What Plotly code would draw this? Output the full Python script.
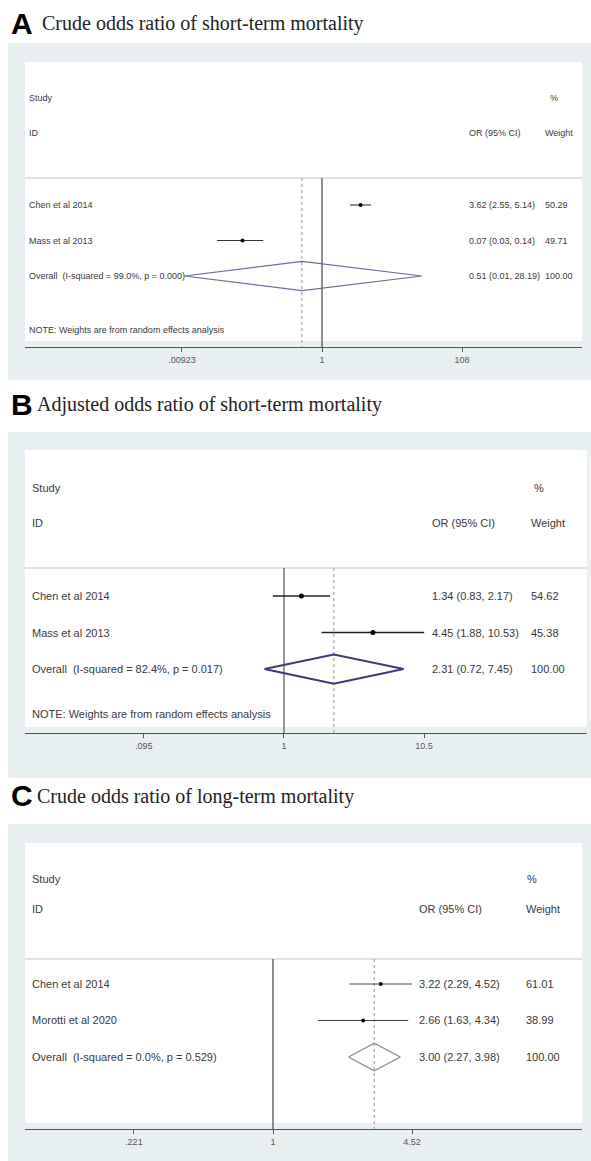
import plotly.graph_objects as go

W, H = 591, 1161

# ---------------- data ----------------
# Panel A: crude OR, short-term mortality
a_studies = ["Chen et al 2014", "Mass et al 2013"]
a_or = [3.62, 0.07]
a_lo = [2.55, 0.03]
a_hi = [5.14, 0.14]
a_weight = [50.29, 49.71]
a_overall = [0.51, 0.01, 28.19]
a_het = "Overall  (I-squared = 99.0%, p = 0.000)"
a_ticks = [0.00923, 1, 108]
a_ticktext = [".00923", "1", "108"]

# Panel B: adjusted OR, short-term mortality
b_studies = ["Chen et al 2014", "Mass et al 2013"]
b_or = [1.34, 4.45]
b_lo = [0.83, 1.88]
b_hi = [2.17, 10.53]
b_weight = [54.62, 45.38]
b_overall = [2.31, 0.72, 7.45]
b_het = "Overall  (I-squared = 82.4%, p = 0.017)"
b_ticks = [0.095, 1, 10.5]
b_ticktext = [".095", "1", "10.5"]

# Panel C: crude OR, long-term mortality
c_studies = ["Chen et al 2014", "Morotti et al 2020"]
c_or = [3.22, 2.66]
c_lo = [2.29, 1.63]
c_hi = [4.52, 4.34]
c_weight = [61.01, 38.99]
c_overall = [3.00, 2.27, 3.98]
c_het = "Overall  (I-squared = 0.0%, p = 0.529)"
c_ticks = [0.221, 1, 4.52]
c_ticktext = [".221", "1", "4.52"]

note_text = "NOTE: Weights are from random effects analysis"

# ---------------- layout specs (pixel geometry) ----------------
panels = [
    dict(letter="A", title="Crude odds ratio of short-term mortality",
         studies=a_studies, est=a_or, lo=a_lo, hi=a_hi, wt=a_weight, ov=a_overall, het=a_het,
         ticks=a_ticks, ticktext=a_ticktext, note=True,
         title_y=23, title_x=40, gray=(8, 591, 43, 380), white=(25, 582, 62, 341),
         dom_x=(25, 582), dom_y=(62, 347), xrange=(-4.314, 3.776),
         yrange=(5.0, -3.028), study_r=-2.01, id_r=-1.03, sep_r=0.239, note_r=4.52,
         left=27, col1=467, col2=543, pct=548, fs=9, tfs=9,
         ci_color="#333333", ci_w=1.1, mk=4, dia_color="#6b6b9c", dia_w=1.2, dia_h=0.41,
         ref_color="#444444", ov_color="#a08c8c"),
    dict(letter="B", title="Adjusted odds ratio of short-term mortality",
         studies=b_studies, est=b_or, lo=b_lo, hi=b_hi, wt=b_weight, ov=b_overall, het=b_het,
         ticks=b_ticks, ticktext=b_ticktext, note=True,
         title_y=404, title_x=35, gray=(8, 591, 432, 778), white=(25, 587, 450, 727),
         dom_x=(25, 587), dom_y=(450, 733), xrange=(-1.889, 2.21),
         yrange=(4.753, -3.0), study_r=-1.959, id_r=-1.0, sep_r=0.233, note_r=4.233,
         left=30, col1=430, col2=529, pct=532, fs=11, tfs=9,
         ci_color="#222222", ci_w=1.6, mk=5, dia_color="#3b3b78", dia_w=2, dia_h=0.40,
         ref_color="#555555", ov_color="#a08c8c"),
    dict(letter="C", title="Crude odds ratio of long-term mortality",
         studies=c_studies, est=c_or, lo=c_lo, hi=c_hi, wt=c_weight, ov=c_overall, het=c_het,
         ticks=c_ticks, ticktext=c_ticktext, note=False,
         title_y=795, title_x=35, gray=(8, 591, 824, 1161), white=(25, 582, 843, 1123),
         dom_x=(25, 582), dom_y=(843, 1129), xrange=(-1.1687, 1.4562),
         yrange=(4.973, -2.863), study_r=-1.877, id_r=-1.055, sep_r=0.315, note_r=None,
         left=30, col1=417, col2=524, pct=525, fs=11, tfs=9,
         ci_color="#444444", ci_w=1.1, mk=4, dia_color="#8a8a8a", dia_w=1.2, dia_h=0.38,
         ref_color="#444444", ov_color="#b08a8a"),
]


def xp(px):
    return px / W


def yp(py):
    return 1 - py / H


SANS = "Arial, Liberation Sans, sans-serif"
SERIF = "Times New Roman, Liberation Serif, serif"
TXT = "#3a3a3a"

fig = go.Figure()
shapes = []
annotations = []
layout = {}

for i, p in enumerate(panels):
    sfx = "" if i == 0 else str(i + 1)
    xa, ya = "x" + sfx, "y" + sfx
    rows = [1, 2]
    ov_row = 3
    bottom_r = p["yrange"][0]
    sep = p["sep_r"]

    # background boxes
    gx0, gx1, gy0, gy1 = p["gray"]
    shapes.append(dict(type="rect", xref="paper", yref="paper", x0=xp(gx0), x1=xp(gx1),
                       y0=yp(gy1), y1=yp(gy0), fillcolor="#e9f0f2", line=dict(width=0), layer="below"))
    wx0, wx1, wy0, wy1 = p["white"]
    shapes.append(dict(type="rect", xref="paper", yref="paper", x0=xp(wx0), x1=xp(wx1),
                       y0=yp(wy1), y1=yp(wy0), fillcolor="#ffffff", line=dict(width=0), layer="below"))
    # separator under the header
    shapes.append(dict(type="line", xref="paper", yref=ya, x0=xp(wx0), x1=xp(wx1),
                       y0=sep, y1=sep, line=dict(color="#e2e2e2", width=2), layer="below"))

    # reference line at OR = 1
    fig.add_trace(go.Scatter(x=[1, 1], y=[sep, bottom_r], mode="lines", xaxis=xa, yaxis=ya,
                             line=dict(color=p["ref_color"], width=1.2), hoverinfo="skip", showlegend=False))
    # overall dashed line
    fig.add_trace(go.Scatter(x=[p["ov"][0], p["ov"][0]], y=[sep, bottom_r], mode="lines", xaxis=xa, yaxis=ya,
                             line=dict(color=p["ov_color"], width=1, dash="dot"), hoverinfo="skip", showlegend=False))
    # CIs
    cx, cy = [], []
    for lo, hi, r in zip(p["lo"], p["hi"], rows):
        cx += [lo, hi, None]
        cy += [r, r, None]
    fig.add_trace(go.Scatter(x=cx, y=cy, mode="lines", xaxis=xa, yaxis=ya,
                             line=dict(color=p["ci_color"], width=p["ci_w"]), hoverinfo="skip", showlegend=False))
    # point estimates
    fig.add_trace(go.Scatter(x=p["est"], y=rows, mode="markers", xaxis=xa, yaxis=ya,
                             marker=dict(color="#000000", size=p["mk"]), hoverinfo="skip", showlegend=False))
    # diamond
    est, lo, hi = p["ov"]
    h = p["dia_h"]
    fig.add_trace(go.Scatter(x=[lo, est, hi, est, lo], y=[ov_row, ov_row - h, ov_row, ov_row + h, ov_row],
                             mode="lines", xaxis=xa, yaxis=ya,
                             line=dict(color=p["dia_color"], width=p["dia_w"]), hoverinfo="skip", showlegend=False))

    layout["xaxis" + sfx] = dict(type="log", range=list(p["xrange"]), domain=[xp(p["dom_x"][0]), xp(p["dom_x"][1])],
                                 anchor=ya, showgrid=False, zeroline=False, showline=True,
                                 linecolor="#555555", linewidth=1.2, ticks="outside", ticklen=4,
                                 tickcolor="#555555", tickvals=p["ticks"], ticktext=p["ticktext"],
                                 tickfont=dict(family=SANS, size=p["tfs"], color="#555555"), fixedrange=True)
    layout["yaxis" + sfx] = dict(range=list(p["yrange"]), domain=[yp(p["dom_y"][1]), yp(p["dom_y"][0])],
                                 anchor=xa, visible=False, fixedrange=True)

    # titles
    annotations.append(dict(text="<b>%s</b>" % p["letter"], xref="paper", yref="paper", x=xp(9), y=yp(p["title_y"]),
                            xanchor="left", yanchor="middle", showarrow=False,
                            font=dict(family=SANS, size=30, color="#000000")))
    annotations.append(dict(text=p["title"], xref="paper", yref="paper", x=xp(p["title_x"]), y=yp(p["title_y"] + 1),
                            xanchor="left", yanchor="middle", showarrow=False,
                            font=dict(family=SERIF, size=20, color="#222222")))

    def txt(s, xpx, row):
        annotations.append(dict(text=s, xref="paper", yref=ya, x=xp(xpx), y=row, xanchor="left",
                                yanchor="middle", showarrow=False,
                                font=dict(family=SANS, size=p["fs"], color=TXT)))

    txt("Study", p["left"], p["study_r"])
    txt("ID", p["left"], p["id_r"])
    txt("%", p["pct"], p["study_r"])
    txt("OR (95% CI)", p["col1"], p["id_r"])
    txt("Weight", p["col2"], p["id_r"])
    for name, e, l, u, w, r in zip(p["studies"], p["est"], p["lo"], p["hi"], p["wt"], rows):
        txt(name, p["left"], r)
        txt("%.2f (%.2f, %.2f)" % (e, l, u), p["col1"], r)
        txt("%.2f" % w, p["col2"], r)
    txt(p["het"], p["left"], ov_row)
    txt("%.2f (%.2f, %.2f)" % (est, lo, hi), p["col1"], ov_row)
    txt("%.2f" % sum(p["wt"]), p["col2"], ov_row)
    if p["note"]:
        txt(note_text, p["left"], p["note_r"])

fig.update_layout(width=W, height=H, margin=dict(l=0, r=0, t=0, b=0),
                  paper_bgcolor="#ffffff", plot_bgcolor="rgba(0,0,0,0)",
                  shapes=shapes, annotations=annotations, showlegend=False, **layout)

fig.write_html("out.html", config={"displayModeBar": False},
               post_script="document.body.style.margin='0';document.body.style.padding='0';"
                           "document.body.style.overflow='hidden';")
